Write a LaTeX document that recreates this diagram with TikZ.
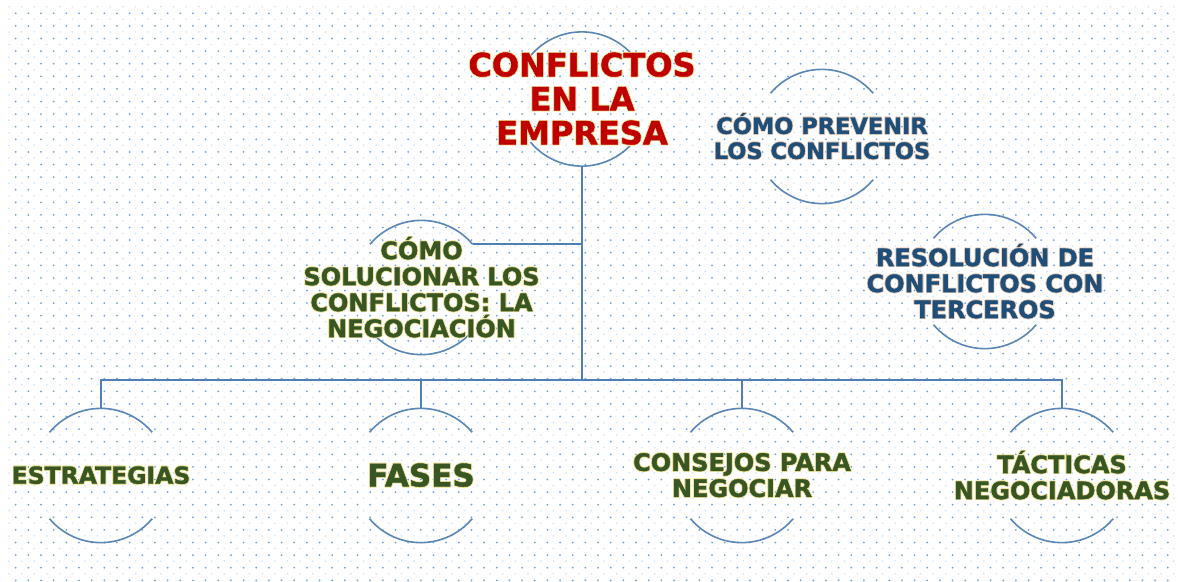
\documentclass[tikz,border=0pt]{standalone}
\usepackage{fontspec}
\setmainfont{DejaVu Sans}[BoldFeatures={FakeBold=1.3}]
\usepackage{contour}
\contourlength{0.7pt}
\contournumber{16}
\definecolor{rootred}{HTML}{C00000}
\definecolor{leafgreen}{HTML}{375623}
\definecolor{sideblue}{HTML}{1F4E79}
\definecolor{glowY}{HTML}{F3E7A0}
\definecolor{glowO}{HTML}{F2D7C4}
\definecolor{linkblue}{HTML}{4F7FB5}
\definecolor{arcblue}{HTML}{5A86B8}
\definecolor{dotdark}{HTML}{6FA3D8}
\definecolor{dotlight}{HTML}{D3E3F4}
\newcommand{\gy}[1]{\contour{glowY}{#1}}
\newcommand{\go}[1]{\contour{glowO}{#1}}
\tikzset{
  ring/.style={circle, draw=none, minimum size=134pt, inner sep=0pt},
  arcline/.style={draw=arcblue, line width=1.6pt},
  link/.style={draw=linkblue, line width=2.1pt},
  roottext/.style={text=rootred, align=center, font=\bfseries\fontsize{32}{34}\selectfont},
  greentext/.style={text=leafgreen, align=center, font=\bfseries\fontsize{24}{26}\selectfont},
  bluetext/.style={text=sideblue, align=center, font=\bfseries\fontsize{24}{26}\selectfont},
}
\begin{document}
\begin{tikzpicture}[x=1pt,y=1pt]
\useasboundingbox (0,0) rectangle (1178,-581);
\fill[white] (0,0) rectangle (1178,-581);
% dotted background
\foreach \j in {0,...,45}{
  \fill[dotlight] foreach \i in {0,...,92} { (9+12.66*\i,-6.7-12.6*\j) circle (0.9) };
  \fill[dotdark] foreach \i in {0,...,91} { (15.7+12.66*\i,-13.3-12.6*\j) circle (1.0) };
}

% circles (placeholders)
\node[ring] (c-root) at (582,-99) {};
\node[ring] (c-prev) at (822,-136.5) {};
\node[ring] (c-res)  at (985,-281.5) {};
\node[ring] (c-sol)  at (421.5,-287.5) {};
\node[ring] (c-est)  at (101,-475.5) {};
\node[ring] (c-fas)  at (421,-475.5) {};
\node[ring] (c-con)  at (742,-475.5) {};
\node[ring] (c-tac)  at (1062,-475.5) {};

% visible arcs
\foreach \c in {c-root,c-prev,c-res,c-sol,c-est,c-fas,c-con,c-tac}{
  \draw[arcline] (\c.140) arc[start angle=140, end angle=40, radius=67pt];
  \draw[arcline] (\c.220) arc[start angle=220, end angle=320, radius=67pt];
}

% connectors
\coordinate (bar) at (582,-380);
\draw[link] (c-root.south) -- (bar);
\draw[link] (c-sol.40) -- (c-sol.40 -| c-root.south);
\draw[link] (bar) -| (c-est.north);
\draw[link] (bar) -| (c-fas.north);
\draw[link] (bar) -| (c-con.north);
\draw[link] (bar) -| (c-tac.north);

% texts
\node[roottext] (t-root) at (c-root.center) {\gy{CONFLICTOS}\\\gy{EN LA}\\\gy{EMPRESA}};
\node[bluetext, font=\bfseries\fontsize{22.5}{25}\selectfont] (t-prev) at (c-prev.center) {\go{CÓMO PREVENIR}\\\go{LOS CONFLICTOS}};
\node[bluetext] (t-res) at (c-res.center) {\go{RESOLUCIÓN DE}\\\go{CONFLICTOS CON}\\\go{TERCEROS}};
\node[greentext] (t-sol) at (c-sol.center) {\gy{CÓMO}\\\gy{SOLUCIONAR LOS}\\\gy{CONFLICTOS: LA}\\\gy{NEGOCIACIÓN}};
\node[greentext, font=\bfseries\fontsize{23.5}{26}\selectfont] (t-est) at (c-est.center) {\gy{ESTRATEGIAS}};
\node[greentext, font=\bfseries\fontsize{31}{34}\selectfont] (t-fas) at (c-fas.center) {\gy{FASES}};
\node[greentext] (t-con) at (c-con.center) {\gy{CONSEJOS PARA}\\\gy{NEGOCIAR}};
\node[greentext] (t-tac) at (c-tac.center) {\gy{TÁCTICAS}\\\gy{NEGOCIADORAS}};
\end{tikzpicture}
\end{document}
